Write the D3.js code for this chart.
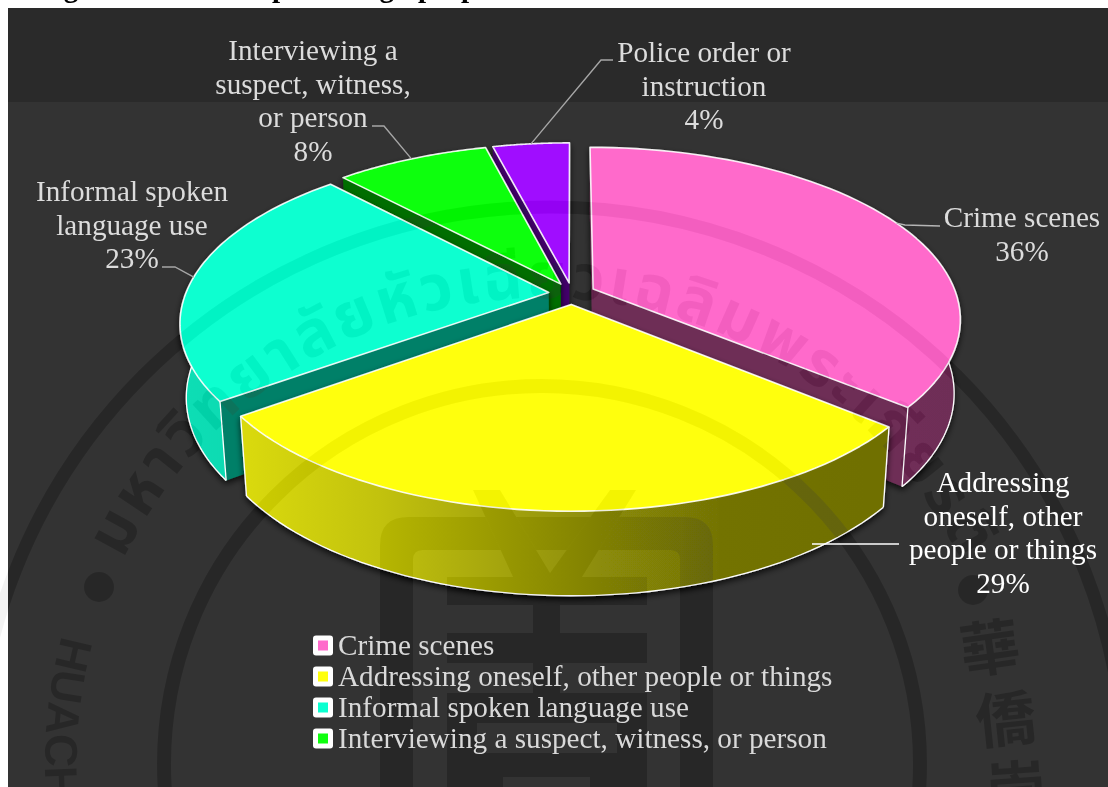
<!DOCTYPE html>
<html>
<head>
<meta charset="utf-8">
<script src="https://cdnjs.cloudflare.com/ajax/libs/d3/7.8.5/d3.min.js"></script>
<style>
  html, body { margin: 0; padding: 0; background: #fff; }
  svg { display: block; }
  text { font-family: "Liberation Serif", "Times New Roman", serif; }
</style>
</head>
<body>
<div id="chart"></div>
<script>
// Share of each setting, in percent, clockwise from twelve o'clock
const categories = [
  "Crime scenes",
  "Addressing oneself, other people or things",
  "Informal spoken language use",
  "Interviewing a suspect, witness, or person",
  "Police order or instruction"
];
const shares = [36, 29, 23, 8, 4];
const sliceColors = ["#ff6bcb", "#ffff0d", "#0bffd0", "#0fff0f", "#a00fff"];
const wallShade = [0.43, 0.43, 0.5, 0.43, 0.42];
const labelLines = [
  ["Crime scenes"],
  ["Addressing", "oneself, other", "people or things"],
  ["Informal spoken", "language use"],
  ["Interviewing a", "suspect, witness,", "or person"],
  ["Police order or", "instruction"]
];
const legendCount = 4;

const W = 1108, H = 787;

// Perspective camera for the tilted disc
const cam = { cx: 572, cy: 293.5, s: 363, p: 167.3, k: 0.171, m: 0.016, h: 74, explode: 0.0645 };
const project = (X, Y, z = 0) => {
  const w = 1 - cam.k * Y + cam.m * z;
  return [cam.cx + cam.s * X / w, cam.cy + (cam.p * Y + cam.h * z) / w];
};

const svg = d3.select("#chart").append("svg").attr("width", W).attr("height", H);
const defs = svg.append("defs");

const shadow = defs.append("filter").attr("id", "soft-shadow")
  .attr("x", "-10%").attr("y", "-10%").attr("width", "120%").attr("height", "125%");
shadow.append("feDropShadow").attr("dx", 0).attr("dy", 3).attr("stdDeviation", 3)
  .attr("flood-color", "#000").attr("flood-opacity", 0.75);

// Page, caption peeking above the panel, and the two-tone panel
svg.append("rect").attr("width", W).attr("height", H).attr("fill", "#fff");
const caption = svg.append("g").attr("font-size", 29).attr("font-weight", "bold").attr("fill", "#000");
[["Figure", 38], ["percentage", 272], ["proportions", 418]].forEach(([t, x]) => {
  caption.append("text").attr("x", x).attr("y", -3).text(t);
});
svg.append("rect").attr("x", 8).attr("y", 8).attr("width", W - 8).attr("height", H - 8).attr("fill", "#333333");
svg.append("rect").attr("x", 8).attr("y", 8).attr("width", W - 8).attr("height", 94).attr("fill", "#2a2a2a");

// Slices
const pie = d3.pie().sort(null).value(d => d)(shares);
const line = d3.line();
const TAU = Math.PI * 2;
const rimFrom = 75 / 360 * TAU, rimTo = 285 / 360 * TAU;

const slices = pie.map((arc, i) => {
  const mid = (arc.startAngle + arc.endAngle) / 2;
  const ox = cam.explode * Math.sin(mid), oy = -cam.explode * Math.cos(mid);
  const at = (a, r, z) => project(ox + r * Math.sin(a), oy - r * Math.cos(a), z);
  return { i, arc, mid, at, depth: -Math.cos(mid) };
});

const arcAngles = (a0, a1) => d3.range(0, 61).map(t => a0 + (a1 - a0) * t / 60);
const area = pts => d3.sum(pts, (q, j) => {
  const n = pts[(j + 1) % pts.length];
  return q[0] * n[1] - n[0] * q[1];
});

// Light falls from the left, so the outer wall darkens across the width of the chart
const rimStops = [[180, 0.87], [250, 0.85], [380, 0.76], [600, 0.55], [720, 0.45], [961, 0.43]];
slices.forEach(sl => {
  const g = defs.append("linearGradient").attr("id", `rim-${sl.i}`)
    .attr("gradientUnits", "userSpaceOnUse")
    .attr("x1", 180).attr("x2", 961).attr("y1", 0).attr("y2", 0);
  rimStops.forEach(([x, f]) => {
    g.append("stop").attr("offset", (x - 180) / 781)
      .attr("stop-color", d3.interpolateRgb("#000", sliceColors[sl.i])(f));
  });
});

const sliceLayer = svg.append("g");
slices.slice().sort((a, b) => d3.ascending(a.depth, b.depth)).forEach(sl => {
  const { i, arc, at } = sl;
  const g = sliceLayer.append("g").attr("filter", "url(#soft-shadow)");
  const wallFill = d3.interpolateRgb("#000", sliceColors[i])(wallShade[i]);

  const startWall = [at(0, 0, 0), at(arc.startAngle, 1, 0), at(arc.startAngle, 1, 1), at(0, 0, 1)];
  const endWall = [at(0, 0, 0), at(arc.endAngle, 1, 0), at(arc.endAngle, 1, 1), at(0, 0, 1)];
  if (area(startWall) < 0) g.append("path").attr("d", line(startWall) + "Z").attr("fill", wallFill);
  if (area(endWall) > 0) g.append("path").attr("d", line(endWall) + "Z").attr("fill", wallFill);

  const a0 = Math.max(arc.startAngle, rimFrom), a1 = Math.min(arc.endAngle, rimTo);
  if (a1 > a0) {
    const angles = arcAngles(a0, a1);
    const upper = angles.map(a => at(a, 1, 0));
    const lower = angles.map(a => at(a, 1, 1));
    g.append("path").attr("d", line(upper.concat(lower.slice().reverse())) + "Z")
      .attr("fill", `url(#rim-${i})`);
    g.append("path").attr("d", line(lower)).attr("fill", "none")
      .attr("stroke", "#fff").attr("stroke-width", 1.3);
    [[arc.startAngle, a0], [arc.endAngle, a1]].forEach(([edge, clipped]) => {
      if (edge === clipped) {
        g.append("path").attr("d", line([at(edge, 1, 0), at(edge, 1, 1)])).attr("fill", "none")
          .attr("stroke", "#fff").attr("stroke-width", 1.3);
      }
    });
  }

  const top = [at(0, 0, 0)].concat(arcAngles(arc.startAngle, arc.endAngle).map(a => at(a, 1, 0)));
  g.append("path").attr("d", line(top) + "Z")
    .attr("fill", sliceColors[i])
    .attr("stroke", "#fff").attr("stroke-opacity", 0.9).attr("stroke-width", 1.6)
    .attr("stroke-linejoin", "round");
});

// University seal printed across the whole sheet
const sealInk = "#0c0c0c";
const seal = svg.append("g").style("mix-blend-mode", "difference")
  .attr("fill", sealInk).attr("stroke", "none");
const sealC = [542, 764];
seal.append("circle").attr("cx", 550).attr("cy", 782).attr("r", 575)
  .attr("fill", "none").attr("stroke", sealInk).attr("stroke-width", 13);
seal.append("circle").attr("cx", sealC[0]).attr("cy", sealC[1]).attr("r", 378)
  .attr("fill", "none").attr("stroke", sealInk).attr("stroke-width", 14);
seal.append("circle").attr("cx", 99).attr("cy", 587).attr("r", 15);
seal.append("circle").attr("cx", 973).attr("cy", 590).attr("r", 15);

const ringPath = (r, a0, a1, sweep) => {
  const pt = a => [sealC[0] + r * Math.sin(a), sealC[1] - r * Math.cos(a)];
  const [x0, y0] = pt(a0), [x1, y1] = pt(a1);
  return `M${x0},${y0}A${r},${r} 0 ${Math.abs(a1 - a0) > Math.PI ? 1 : 0} ${sweep} ${x1},${y1}`;
};
const rad = d => d * Math.PI / 180;
defs.append("path").attr("id", "seal-top").attr("d", ringPath(466, rad(-64), rad(64), 1));
defs.append("path").attr("id", "seal-left").attr("d", ringPath(497, rad(-75), rad(-135), 0));

seal.append("text").attr("font-size", 64).attr("font-weight", "bold")
  .style("font-family", '"Noto Sans Thai", "Noto Sans", "DejaVu Sans", sans-serif')
  .append("textPath").attr("href", "#seal-top")
  .attr("textLength", 1041).attr("lengthAdjust", "spacing")
  .text("มหาวิทยาลัยหัวเฉียวเฉลิมพระเกียรติ");
seal.append("text").attr("font-size", 46).attr("font-weight", "bold")
  .style("font-family", '"Liberation Sans", sans-serif')
  .append("textPath").attr("href", "#seal-left")
  .text("HUACHIEW CHALERMPRAKIET");
[["華", 993, 670, -8], ["僑", 1008, 741, -6], ["崇", 1018, 811, -4]].forEach(([t, x, y, r]) => {
  seal.append("text").attr("transform", `translate(${x},${y}) rotate(${r})`)
    .attr("text-anchor", "middle").attr("font-size", 60).attr("font-weight", "bold")
    .style("font-family", '"Noto Sans CJK TC", sans-serif').text(t);
});

// Central emblem: arch, chevron and stacked bars
seal.append("path").attr("d",
  "M380,787V545Q380,517 408,517H685Q713,517 713,545V787H680V560Q680,550 670,550H423Q413,550 413,560V787Z");
seal.append("path").attr("d", "M473,490H500L550,573L610,490H636L582,577H513Z");
[[447, 577, 200, 28], [447, 633, 200, 30], [447, 693, 200, 30], [447, 753, 200, 24], [533, 605, 27, 28],
 [533, 663, 27, 30], [447, 723, 30, 30], [617, 723, 30, 30], [447, 777, 56, 10], [590, 777, 57, 10]].forEach(([x, y, w, h]) => {
  seal.append("rect").attr("x", x).attr("y", y).attr("width", w).attr("height", h);
});

// Data labels with their leader lines
const fontSize = 29.2, lineStep = 33.6;
const labelPos = [
  { x: 1022, y: 227, color: "#dcdcdc", elbow: [[940, 226], [905, 225]], lead: "#b5b5b5" },
  { x: 1003, y: 492, color: "#ffffff", elbow: [[899, 544]], lead: "#ffffff", anchor: [812, 544] },
  { x: 132, y: 201, color: "#dcdcdc", elbow: [[162, 267], [175, 267]], lead: "#a6a6a6" },
  { x: 313, y: 60, color: "#dcdcdc", elbow: [[372, 126], [384, 126]], lead: "#a6a6a6" },
  { x: 704, y: 62, color: "#dcdcdc", elbow: [[613, 60], [601, 60]], lead: "#a6a6a6" }
];
const labels = svg.append("g").attr("font-size", fontSize).attr("text-anchor", "middle");
slices.forEach(sl => {
  const pos = labelPos[sl.i];
  const anchor = pos.anchor || sl.at(sl.mid, 1, 0);
  labels.append("path").attr("d", line(pos.elbow.concat([anchor]))).attr("fill", "none")
    .attr("stroke", pos.lead).attr("stroke-width", 1.4);
  labelLines[sl.i].concat(shares[sl.i] + "%").forEach((t, j) => {
    labels.append("text").attr("x", pos.x).attr("y", pos.y + j * lineStep)
      .attr("fill", pos.color).text(t);
  });
});

// Legend
const legend = svg.append("g").attr("font-size", fontSize);
const legendY = d3.scalePoint().domain(d3.range(legendCount)).range([655, 748]);
categories.slice(0, legendCount).forEach((name, i) => {
  const y = legendY(i);
  legend.append("rect").attr("x", 313).attr("y", y - 19.5).attr("width", 20).attr("height", 20)
    .attr("rx", 3).attr("fill", "#fff");
  legend.append("rect").attr("x", 318).attr("y", y - 14.5).attr("width", 10).attr("height", 10)
    .attr("fill", sliceColors[i]);
  legend.append("text").attr("x", 338).attr("y", y).attr("fill", "#d9d9d9").text(name);
});
</script>
</body>
</html>
